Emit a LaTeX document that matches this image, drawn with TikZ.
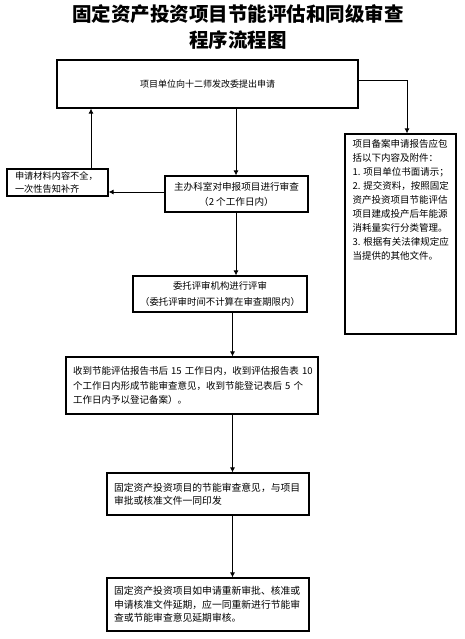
\documentclass[tikz,border=0pt]{standalone}
\usepackage{fontspec}
\newfontfamily\cjk{Noto Sans CJK SC}
\usetikzlibrary{arrows.meta}
\begin{document}
\begin{tikzpicture}[x=1pt,y=-1pt,
  box/.style={draw, line width=1.1pt, inner sep=0pt},
  arr/.style={line width=0.9pt, -{Latex[length=5pt,width=5pt]}},
  ln/.style={line width=0.9pt}]
\useasboundingbox (0,0) rectangle (464,639);

\node[font=\cjk\bfseries\fontsize{19.5}{26}\selectfont, align=center] (title) at (238,27)
  {固定资产投资项目节能评估和同级审查\\程序流程图};

\node[box, minimum width=301pt, minimum height=48pt, font=\cjk\fontsize{9}{13}\selectfont] (b1) at (207.5,84)
  {项目单位向十二师发改委提出申请};

\node[box, minimum width=143pt, minimum height=36pt, align=center, font=\cjk\fontsize{9.6}{15}\selectfont] (b2) at (236.5,194)
  {主办科室对申报项目进行审查\\（2 个工作日内）};

\node[box, minimum width=101pt, minimum height=27pt, text width=85pt, align=left, font=\cjk\fontsize{9.2}{13}\selectfont] (lb) at (57.5,182.5)
  {\mbox{申请材料内容不全，}\\\mbox{一次性告知补齐}};

\node[box, minimum width=111pt, minimum height=200pt, font=\cjk\fontsize{9.5}{14}\selectfont] (rb) at (400.5,234)
  {\parbox[t][196pt][t]{96pt}{\vspace*{3pt}\raggedright
  \mbox{项目备案申请报告应包}\\
  \mbox{括以下内容及附件：}\\
  \mbox{1. 项目单位书面请示；}\\
  \mbox{2. 提交资料，按照固定}\\
  \mbox{资产投资项目节能评估}\\
  \mbox{项目建成投产后年能源}\\
  \mbox{消耗量实行分类管理。}\\
  \mbox{3. 根据有关法律规定应}\\
  \mbox{当提供的其他文件。}}};

\node[box, minimum width=174pt, minimum height=36pt, align=center, font=\cjk\fontsize{9.4}{15.5}\selectfont] (b3) at (220,294)
  {委托评审机构进行评审\\（委托评审时间不计算在审查期限内）};

\node[box, minimum width=252pt, minimum height=57pt, text width=238pt, align=left, font=\cjk\fontsize{9.5}{14.5}\selectfont] (b4) at (192,385.5)
  {\mbox{收到节能评估报告书后 15 工作日内，收到评估报告表 10}\\
   \mbox{个工作日内形成节能审查意见，收到节能登记表后 5 个}\\
   \mbox{工作日内予以登记备案）。}};

\node[box, minimum width=202pt, minimum height=42pt, text width=188pt, align=left, font=\cjk\fontsize{9.8}{13.5}\selectfont] (b5) at (208,494)
  {\mbox{固定资产投资项目的节能审查意见，与项目}\\\mbox{审批或核准文件一同印发}};

\node[box, minimum width=202pt, minimum height=53pt, text width=188pt, align=left, font=\cjk\fontsize{9.8}{13.5}\selectfont] (b6) at (208,604.5)
  {\mbox{固定资产投资项目如申请重新审批、核准或}\\\mbox{申请核准文件延期，应一同重新进行节能审}\\\mbox{查或节能审查意见延期审核。}};

% connector x positions
\coordinate (xa) at (236,0);
\coordinate (xb) at (232.5,0);
\coordinate (xl) at (91,0);
\coordinate (xr) at (407,80);

\draw[arr] (b1.south -| xa) -- (b2.north -| xa);
\draw[arr] (b2.south -| xa) -- (b3.north -| xa);
\draw[arr] (b3.south -| xb) -- (b4.north -| xb);
\draw[arr] (b4.south -| xb) -- (b5.north -| xb);
\draw[arr] (b5.south -| xb) -- (b6.north -| xb);

\draw[arr] ([yshift=2pt]b2.west) -- ([yshift=2pt]b2.west -| lb.east);
\draw[arr] (lb.north -| xl) -- (b1.south -| xl);

\draw[arr] (b1.east |- xr) -- (xr) -- (rb.north -| xr);
\end{tikzpicture}
\end{document}
